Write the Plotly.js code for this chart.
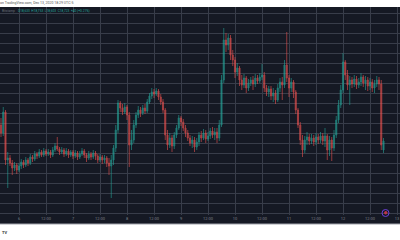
<!DOCTYPE html>
<html>
<head>
<meta charset="utf-8">
<script src="https://cdn.plot.ly/plotly-3.0.1.min.js"></script>
<style>
html,body{margin:0;padding:0;background:#fff;}
#chart{width:400px;height:240px;}
</style>
</head>
<body>
<div id="chart"></div>
<script>
// Hourly candles starting 2020-12-05 16:00
const openP = [18883,18803,19013,18533,18553,18503,18453,18483,18433,18473,18513,18483,18533,18503,18563,18543,18593,18573,18613,18583,
18623,18593,18613,18583,18633,18673,18643,18613,18633,18593,18623,18583,18613,18573,18603,18563,18593,18623,18583,18553,
18593,18563,18603,18573,18533,18563,18533,18553,18503,18473,18533,18653,18833,19103,19053,19013,19063,18983,18683,18733,
18883,18983,19033,19003,19053,19023,19113,19173,19213,19193,19223,19163,19113,19033,18783,18683,18753,18673,18783,18853,
18953,18913,18853,18803,18753,18703,18733,18663,18713,18783,18753,18803,18743,18773,18823,18783,18813,18753,18883,19333,
19733,19683,19753,19583,19533,19413,19453,19333,19283,19353,19253,19303,19333,19293,19353,19323,19363,19383,19253,19213,
19243,19173,19203,19133,19253,19313,19283,19483,19353,19253,19313,19213,19033,18883,18733,18633,18733,18763,18723,18753,
18713,18763,18733,18773,18723,18773,18633,18733,18653,18783,18933,19083,19233,19513,19383,19283,19333,19293,19343,19283,
19313,19363,19303,19333,19273,19313,19253,19293,19333,19293,18633];
const highP = [18953,19063,19033,18613,18583,18533,18513,18503,18503,18543,18533,18563,18553,18593,18583,18623,18613,18643,18633,18653,
18643,18643,18633,18663,18703,18763,18663,18663,18653,18653,18643,18633,18633,18633,18623,18623,18653,18643,18603,18623,
18613,18633,18623,18593,18593,18583,18583,18573,18553,18583,18683,18883,19133,19123,19093,19103,19083,19013,18833,18933,
19013,19073,19063,19083,19093,19143,19203,19253,19243,19253,19243,19193,19143,19053,18833,18803,18783,18813,18883,18983,
18973,18943,18883,18833,18783,18773,18763,18753,18813,18823,18843,18833,18813,18853,18863,18853,18853,18933,19383,19853,
19803,19793,19783,19633,19563,19503,19473,19383,19393,19373,19343,19363,19373,19393,19383,19403,19493,19413,19283,19273,
19273,19253,19233,19293,19353,19363,19533,19813,19383,19353,19333,19233,19053,18913,18783,18773,18813,18793,18793,18783,
18803,18793,18813,18803,18853,18793,18773,18763,18833,18973,19133,19283,19603,19533,19433,19373,19363,19383,19373,19353,
19403,19383,19373,19363,19353,19343,19333,19373,19363,19333,18753];
const lowP = [18763,18773,18483,18253,18473,18383,18423,18393,18413,18443,18453,18463,18473,18483,18513,18523,18543,18553,18563,18563,
18573,18573,18553,18563,18613,18623,18583,18593,18563,18573,18553,18563,18543,18553,18533,18543,18573,18553,18513,18533,
18533,18543,18533,18503,18513,18493,18503,18463,18383,18153,18483,18613,18803,19013,18983,18993,18933,18463,18633,18703,
18853,18953,18963,18983,18993,19003,19093,19143,19153,19173,19133,19083,19003,18733,18633,18653,18613,18643,18753,18833,
18873,18823,18763,18723,18673,18653,18613,18633,18673,18713,18733,18703,18723,18743,18753,18733,18703,18723,18863,19303,
19613,19633,19533,19473,19353,19373,19273,19233,19253,19203,19223,19273,19233,19263,19293,19303,19333,19213,19173,19163,
19133,19113,19093,19113,19213,19133,19253,19313,19163,19213,19153,18993,18853,18683,18563,18603,18683,18683,18693,18673,
18683,18693,18703,18683,18663,18533,18573,18523,18623,18753,18903,19053,19203,19333,19233,19083,19253,19263,19243,19253,
19273,19263,19233,19223,19233,19213,19203,19263,19233,18633,18603];
const closeP = [18803,19013,18533,18553,18503,18453,18483,18433,18473,18513,18483,18533,18503,18563,18543,18593,18573,18613,18583,18623,
18593,18613,18583,18633,18673,18643,18613,18633,18593,18623,18583,18613,18573,18603,18563,18593,18623,18583,18553,18593,
18563,18603,18573,18533,18563,18533,18553,18503,18473,18533,18653,18833,19103,19053,19013,19063,18983,18683,18733,18883,
18983,19033,19003,19053,19023,19113,19173,19213,19193,19223,19163,19113,19033,18783,18683,18753,18673,18783,18853,18953,
18913,18853,18803,18753,18703,18733,18663,18713,18783,18753,18803,18743,18773,18823,18783,18813,18753,18883,19333,19733,
19683,19753,19583,19533,19413,19453,19333,19283,19353,19253,19303,19333,19293,19353,19323,19363,19383,19253,19213,19243,
19173,19203,19133,19253,19313,19283,19483,19353,19253,19313,19213,19033,18883,18733,18633,18733,18763,18723,18753,18713,
18763,18733,18773,18723,18773,18633,18733,18653,18783,18933,19083,19233,19513,19383,19283,19333,19293,19343,19283,19313,
19363,19303,19333,19273,19313,19253,19293,19333,19293,18683,18723];

const tickVals = ["2020-12-06 00:00","2020-12-06 12:00","2020-12-07 00:00","2020-12-07 12:00","2020-12-08 00:00","2020-12-08 12:00",
"2020-12-09 00:00","2020-12-09 12:00","2020-12-10 00:00","2020-12-10 12:00","2020-12-11 00:00","2020-12-11 12:00",
"2020-12-12 00:00","2020-12-12 12:00","2020-12-13 00:00"];
const tickLabels = ["6","12:00","7","12:00","8","12:00","9","12:00","10","12:00","11","12:00","12","12:00","13"];

const times = openP.map((_, i) => Date.UTC(2020, 11, 5, 16 + i));

const bg = "#151924";
const grid = "#383d4a";
const up = "#26a69a", down = "#ef5350";

const PH = 208; // plot height in px (7..215)
const py = px => (215 - px) / PH;

const trace = {
  type: "candlestick",
  x: times, open: openP, high: highP, low: lowP, close: closeP,
  increasing: {line: {color: up, width: 0.8}, fillcolor: up},
  decreasing: {line: {color: down, width: 0.8}, fillcolor: down},
  whiskerwidth: 0,
  opacity: 0.72,
  hoverinfo: "skip"
};

const layout = {
  width: 400, height: 240,
  margin: {l: 0, r: 0, t: 7, b: 25},
  paper_bgcolor: "#ffffff",
  plot_bgcolor: bg,
  showlegend: false,
  hovermode: false,
  xaxis: {
    type: "date",
    range: ["2020-12-05 15:33:20", "2020-12-13 01:20"],
    rangeslider: {visible: false},
    tickmode: "array", tickvals: tickVals, ticktext: tickLabels,
    showgrid: true, gridcolor: grid, gridwidth: 1,
    zeroline: false, showline: false, ticks: "",
    tickfont: {family: "Roboto, sans-serif", size: 4, color: "#7d808a"},
    fixedrange: true
  },
  yaxis: {
    range: [17983, 20063],
    tick0: 18000, dtick: 100,
    showgrid: true, gridcolor: grid, gridwidth: 1,
    zeroline: false, showticklabels: false, ticks: "",
    fixedrange: true
  },
  shapes: [
    {type: "rect", xref: "paper", yref: "paper", x0: 0, x1: 1, y0: py(224), y1: 0,
     fillcolor: bg, line: {width: 0}, layer: "below"},
    {type: "line", xref: "paper", yref: "paper", x0: 0, x1: 1, y0: py(224), y1: py(224),
     line: {color: "#a0a3ab", width: 1}},
    {type: "circle", xref: "paper", yref: "paper", x0: 382/400, x1: 389/400, y0: py(216.5), y1: py(209.5),
     line: {color: "#6b3fd6", width: 1}, fillcolor: "rgba(0,0,0,0)"},
    {type: "circle", xref: "paper", yref: "paper", x0: 384.5/400, x1: 387/400, y0: py(214), y1: py(211.5),
     line: {color: "#c2364a", width: 1}, fillcolor: "#c2364a"}
  ],
  annotations: [
    {xref: "paper", yref: "paper", x: -0.006, y: py(3.5), xanchor: "left", yanchor: "middle", showarrow: false,
     text: "on TradingView.com, Dec 13, 2020 18:29 UTC-5", font: {family: "Roboto, sans-serif", size: 3.5, color: "#555"}},
    {xref: "paper", yref: "paper", x: 0, y: py(11), xanchor: "left", yanchor: "middle", showarrow: false,
     text: "Bitstamp", font: {family: "Roboto, sans-serif", size: 3.2, color: "#6b6f7a"}},
    {xref: "paper", yref: "paper", x: 16/400, y: py(11), xanchor: "left", yanchor: "middle", showarrow: false,
     text: "O18,633  H18,753  L18,603  C18,723  +40 (+0.21%)", font: {family: "Roboto, sans-serif", size: 3.2, color: up}},
    {xref: "paper", yref: "paper", x: 0, y: py(232), xanchor: "left", yanchor: "middle", showarrow: false,
     text: "<b>TV</b>", font: {family: "Roboto, sans-serif", size: 4, color: "#333"}}
  ]
};

Plotly.newPlot("chart", [trace], layout, {displayModeBar: false, staticPlot: true});
</script>
</body>
</html>
